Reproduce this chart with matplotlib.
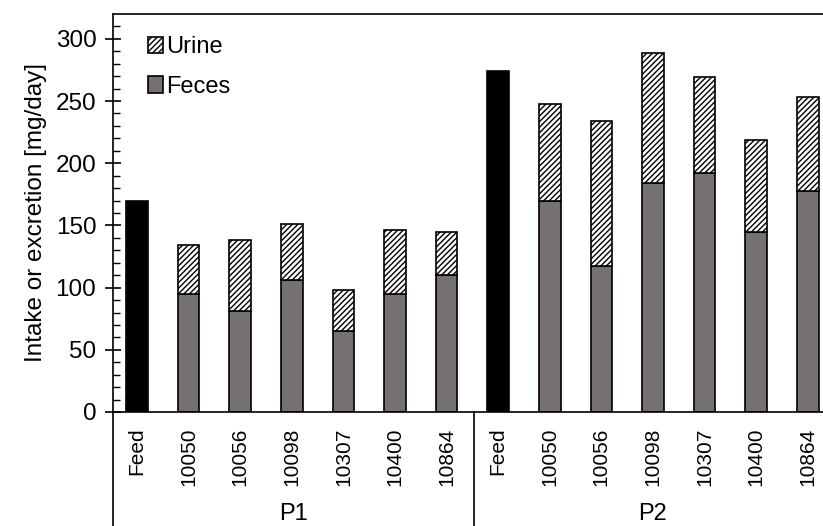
import matplotlib
matplotlib.use('Agg')
import matplotlib.pyplot as plt
import matplotlib.transforms as mtransforms
import numpy as np

plt.rcParams['font.family'] = ['Liberation Sans', 'DejaVu Sans']
plt.rcParams['hatch.linewidth'] = 1.0

# data
groups = ['P1', 'P2']
labels = ['Feed', '10050', '10056', '10098', '10307', '10400', '10864']
feed = [170, 274]
feces_p1 = [95, 81, 106, 65, 95, 110]
total_p1 = [134, 138, 151, 98, 146, 145]
feces_p2 = [170, 117, 184, 192, 145, 178]
total_p2 = [248, 234, 289, 269, 219, 253]

feces = [feces_p1, feces_p2]
total = [total_p1, total_p2]

fig = plt.figure(figsize=(8.23, 5.26), dpi=100)
ax = fig.add_axes([113/823, 114/526, 719/823, 398/526])

w = 0.42
gray = '#767070'
n = len(labels)
xticks = []
xlabels = []
for g in range(len(groups)):
    base = g * n
    ax.bar(base, feed[g], width=w, color='black', edgecolor='black', lw=1.2)
    xs = base + np.arange(1, n)
    f = np.array(feces[g])
    u = np.array(total[g]) - f
    ax.bar(xs, f, width=w, color=gray, edgecolor='black', lw=1.2,
           label='Feces' if g == 0 else None)
    ax.bar(xs, u, bottom=f, width=w, color='white', edgecolor='black',
           hatch='//////', lw=1.2, label='Urine' if g == 0 else None)
    xticks += list(range(base, base + n))
    xlabels += labels

ax.set_xlim(-0.465, 13.47)
ax.set_ylim(0, 320)
ax.set_yticks(np.arange(0, 301, 50))
ax.set_yticks(np.arange(0, 320, 10), minor=True)
ax.set_xticks(xticks)
ax.set_xticklabels(xlabels, rotation=90, fontsize=15)
ax.tick_params(axis='x', length=0, pad=11)
ax.tick_params(axis='y', which='major', direction='inout', length=12,
               width=1.2, labelsize=17.5, pad=6)
ax.tick_params(axis='y', which='minor', direction='in', length=5, width=1.0)
ax.set_ylabel('Intake or excretion [mg/day]', fontsize=17.5, labelpad=6)
for s in ax.spines.values():
    s.set_linewidth(1.2)

# group separators and labels below the axis
trans = mtransforms.blended_transform_factory(ax.transData, ax.transAxes)
for xv in [-0.465, 6.53]:
    ax.plot([xv, xv], [0, -0.3], color='black', lw=1.2, transform=trans,
            clip_on=False)
ax.text(3.03, -0.283, groups[0], transform=trans, ha='center', va='bottom',
        fontsize=17)
ax.text(10.0, -0.283, groups[1], transform=trans, ha='center', va='bottom',
        fontsize=17)

h, l = ax.get_legend_handles_labels()
ax.legend(h[::-1], l[::-1], loc='upper left', bbox_to_anchor=(0.035, 0.968),
          frameon=False, fontsize=17, handlelength=0.65, handleheight=0.7,
          handletextpad=0.15, labelspacing=0.75, borderaxespad=0)

fig.savefig('out.png', dpi=100)
